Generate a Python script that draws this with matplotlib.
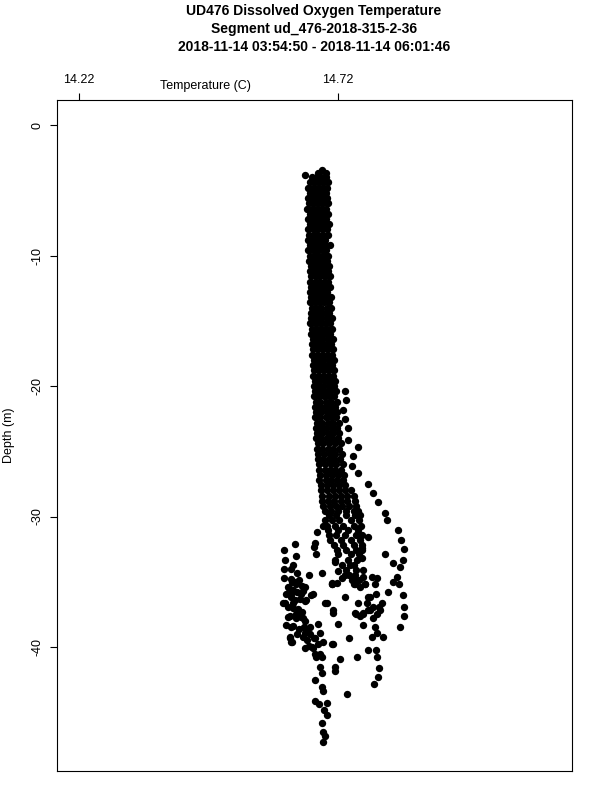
import numpy as np
import matplotlib
matplotlib.use("Agg")
from matplotlib import pyplot as plt

plt.rcParams['font.family'] = ['Liberation Sans', 'DejaVu Sans']

title_lines = ["UD476 Dissolved Oxygen Temperature",
               "Segment ud_476-2018-315-2-36",
               "2018-11-14 03:54:50 - 2018-11-14 06:01:46"]
x_ticks = [14.22, 14.72]
y_ticks = [0, -10, -20, -30, -40]

# dense column: one depth per row, the temperatures read at that depth
col_depth = [-3.45, -3.7, -3.8, -4.0, -4.4, -4.8, -5.2, -5.6, -6.0, -6.4, -6.8, -7.2,
             -7.6, -8.0, -8.4, -8.8, -9.2, -9.6, -10.0, -10.4, -10.8, -11.2, -11.6,
             -12.0, -12.4, -12.8, -13.2, -13.6, -14.0, -14.4, -14.8, -15.2, -15.6,
             -16.0, -16.4, -16.8, -17.2, -17.6, -18.0, -18.4, -18.8, -19.2, -19.6,
             -20.0, -20.4, -20.8, -21.2, -21.6, -22.0, -22.4, -22.8, -23.2, -23.6,
             -24.0, -24.4, -24.8, -25.2, -25.6, -26.0, -26.4, -26.8, -27.2, -27.6,
             -28.0, -28.4, -28.8, -29.2, -29.6, -29.9, -30.3, -30.7, -31.0, -31.4,
             -31.8, -32.2, -32.6, -32.9, -33.3, -33.7, -34.1, -34.5, -34.9, -35.2]
col_temp = [
    [14.689],
    [14.681, 14.697],
    [14.656],
    [14.670, 14.679, 14.688, 14.697],
    [14.666, 14.675, 14.684, 14.693, 14.700],
    [14.663, 14.672, 14.681, 14.690, 14.699],
    [14.665, 14.674, 14.683, 14.692, 14.697],
    [14.662, 14.671, 14.680, 14.689, 14.698],
    [14.664, 14.673, 14.682, 14.691, 14.700],
    [14.661, 14.670, 14.679, 14.688, 14.696],
    [14.665, 14.674, 14.683, 14.692, 14.701],
    [14.662, 14.671, 14.680, 14.689, 14.697],
    [14.666, 14.675, 14.684, 14.693, 14.703],
    [14.662, 14.671, 14.680, 14.689, 14.698],
    [14.664, 14.673, 14.682, 14.691, 14.700],
    [14.663, 14.672, 14.681, 14.690, 14.695],
    [14.665, 14.674, 14.683, 14.694, 14.704],
    [14.662, 14.671, 14.680, 14.689, 14.697],
    [14.666, 14.675, 14.684, 14.693, 14.701],
    [14.664, 14.673, 14.682, 14.691, 14.699],
    [14.667, 14.676, 14.685, 14.694, 14.703],
    [14.665, 14.674, 14.683, 14.692, 14.700],
    [14.668, 14.677, 14.686, 14.695, 14.705],
    [14.666, 14.675, 14.684, 14.693, 14.701],
    [14.667, 14.676, 14.686, 14.695, 14.704],
    [14.665, 14.674, 14.683, 14.692, 14.699],
    [14.668, 14.677, 14.687, 14.697, 14.706],
    [14.666, 14.675, 14.684, 14.693, 14.702],
    [14.669, 14.678, 14.688, 14.698, 14.707],
    [14.667, 14.676, 14.685, 14.694, 14.703],
    [14.668, 14.678, 14.688, 14.698, 14.708],
    [14.666, 14.675, 14.685, 14.695, 14.704],
    [14.670, 14.679, 14.689, 14.699, 14.709],
    [14.668, 14.677, 14.687, 14.696, 14.705],
    [14.671, 14.680, 14.690, 14.700, 14.710],
    [14.669, 14.678, 14.688, 14.697, 14.706],
    [14.672, 14.681, 14.691, 14.701, 14.711],
    [14.670, 14.679, 14.689, 14.698, 14.708],
    [14.673, 14.682, 14.692, 14.702, 14.712],
    [14.671, 14.680, 14.690, 14.699, 14.709],
    [14.674, 14.683, 14.693, 14.703, 14.713],
    [14.672, 14.681, 14.691, 14.700, 14.710],
    [14.675, 14.684, 14.694, 14.704, 14.714],
    [14.673, 14.682, 14.692, 14.702, 14.712],
    [14.676, 14.685, 14.695, 14.705, 14.716],
    [14.674, 14.683, 14.693, 14.703, 14.713],
    [14.677, 14.686, 14.697, 14.707, 14.718],
    [14.675, 14.685, 14.695, 14.705, 14.715],
    [14.678, 14.688, 14.698, 14.709, 14.719],
    [14.676, 14.686, 14.696, 14.706, 14.717],
    [14.679, 14.689, 14.700, 14.710, 14.721],
    [14.677, 14.687, 14.697, 14.708, 14.718],
    [14.680, 14.690, 14.701, 14.711, 14.722],
    [14.678, 14.688, 14.699, 14.709, 14.720],
    [14.681, 14.692, 14.703, 14.714, 14.725],
    [14.679, 14.690, 14.701, 14.711, 14.722],
    [14.682, 14.693, 14.704, 14.715, 14.727],
    [14.681, 14.692, 14.703, 14.713, 14.724],
    [14.684, 14.695, 14.706, 14.717, 14.729],
    [14.683, 14.694, 14.705, 14.715, 14.726],
    [14.686, 14.697, 14.708, 14.720, 14.731],
    [14.684, 14.696, 14.707, 14.718, 14.730],
    [14.688, 14.699, 14.711, 14.722, 14.734],
    [14.687, 14.698, 14.710, 14.721, 14.733, 14.745],
    [14.690, 14.702, 14.714, 14.726, 14.738, 14.750],
    [14.689, 14.701, 14.713, 14.725, 14.737, 14.752],
    [14.692, 14.704, 14.716, 14.728, 14.741, 14.755],
    [14.694, 14.706, 14.720, 14.735, 14.750, 14.758],
    [14.702, 14.716, 14.735, 14.752, 14.762],
    [14.695, 14.708, 14.722, 14.745, 14.760],
    [14.699, 14.714, 14.730, 14.750, 14.764],
    [14.701, 14.720, 14.740, 14.758],
    [14.703, 14.716, 14.733, 14.755, 14.766],
    [14.705, 14.725, 14.745, 14.762],
    [14.712, 14.730, 14.750, 14.766],
    [14.718, 14.735, 14.755],
    [14.720, 14.745, 14.760],
    [14.714, 14.740, 14.757],
    [14.728, 14.750],
    [14.735, 14.755, 14.768],
    [14.741, 14.753],
    [14.747, 14.760],
    [14.708, 14.751, 14.772],
]

# warm streak to the right of the column
right_temp = [14.734, 14.735, 14.730, 14.734, 14.739, 14.739, 14.759, 14.749, 14.747,
              14.759, 14.778, 14.788, 14.797, 14.811, 14.815, 14.836, 14.842, 14.847,
              14.845, 14.826, 14.840, 14.834, 14.826, 14.838, 14.817, 14.845, 14.847,
              14.847, 14.840, 14.811]
right_depth = [-20.4, -21.1, -21.8, -22.5, -23.2, -24.1, -24.7, -25.4, -26.1,
               -26.7, -27.5, -28.2, -28.9, -29.7, -30.3, -31.0, -31.8, -32.5,
               -33.3, -33.6, -33.9, -34.6, -35.0, -35.2, -35.8, -36.0, -36.9,
               -37.6, -38.5, -32.9]

# scattered readings between the clusters
mid_temp = [14.679, 14.691, 14.778, 14.766, 14.766, 14.674, 14.677, 14.637, 14.639,
            14.633, 14.641, 14.689, 14.708, 14.718, 14.720, 14.734, 14.664, 14.672,
            14.699, 14.710, 14.710, 14.720, 14.710, 14.734, 14.759, 14.755, 14.778,
            14.786, 14.791, 14.793, 14.805, 14.799, 14.801, 14.795, 14.788, 14.778,
            14.768, 14.762, 14.791, 14.795, 14.768, 14.807, 14.786, 14.778, 14.793,
            14.795, 14.799, 14.797, 14.790, 14.757, 14.724, 14.714, 14.714, 14.741,
            14.708, 14.737,
            14.676, 14.714, 14.766, 14.743, 14.728, 14.749, 14.768, 14.753, 14.762,
            14.772, 14.795, 14.708, 14.782, 14.776, 14.788, 14.782, 14.753, 14.768]
mid_depth = [-31.2, -30.7, -31.6, -32.6, -33.2, -32.3, -32.9, -32.1, -33.0,
             -33.7, -34.3, -34.3, -35.1, -35.1, -34.2, -34.5, -34.5, -35.9,
             -36.6, -37.2, -37.4, -38.2, -39.8, -36.2, -36.6, -37.5, -36.2,
             -34.6, -35.2, -35.9, -36.6, -36.9, -37.2, -37.5, -37.8, -37.2,
             -37.4, -37.6, -38.5, -38.9, -38.3, -39.2, -39.2, -40.2, -40.2,
             -40.8, -41.6, -42.3, -42.8, -40.8, -40.9, -41.5, -41.8, -39.3,
             -39.8, -43.6,
             -32.0, -33.5, -32.4, -33.7, -34.7, -34.7, -34.6, -35.2, -35.4,
             -35.2, -34.7, -35.2, -36.2, -36.6, -36.9, -37.2, -37.4, -37.5]

# cold cluster on the left
left_temp = [14.616, 14.618, 14.616, 14.616, 14.620, 14.618, 14.620, 14.627, 14.631,
             14.629, 14.637, 14.645, 14.650, 14.625, 14.633, 14.641, 14.652,
             14.629, 14.637, 14.647, 14.656, 14.623, 14.633, 14.643, 14.650,
             14.627, 14.639, 14.648, 14.656, 14.633, 14.645, 14.654, 14.660,
             14.641, 14.652, 14.660, 14.664, 14.656, 14.629, 14.631, 14.658,
             14.666, 14.674, 14.681,
             14.639, 14.623, 14.656, 14.629, 14.649, 14.668, 14.614, 14.633,
             14.658, 14.695, 14.623, 14.639, 14.652, 14.629, 14.666, 14.656,
             14.676, 14.627, 14.629, 14.681, 14.672, 14.685, 14.678]
left_depth = [-32.6, -33.3, -34.0, -34.7, -35.9, -36.6, -38.3, -39.2, -39.6,
              -34.8, -35.0, -34.9, -35.3, -35.5, -35.6, -35.8, -35.7,
              -36.2, -36.4, -36.3, -36.5, -36.9, -37.0, -37.1, -37.3,
              -37.6, -37.8, -37.7, -38.0, -38.4, -38.6, -38.5, -38.8,
              -39.0, -39.2, -39.5, -39.9, -40.1, -34.0, -35.0, -38.6,
              -39.0, -39.3, -38.2,
              -35.2, -35.4, -35.4, -35.9, -35.9, -36.0, -36.6, -36.6,
              -36.4, -36.6, -37.7, -37.5, -37.8, -38.5, -38.5, -38.9,
              -39.3, -39.3, -39.6, -39.8, -40.1, -40.5, -40.8]

# bottom trail
trail_temp = [14.685, 14.691, 14.670, 14.676, 14.689, 14.685, 14.689, 14.676, 14.689,
              14.691, 14.676, 14.683, 14.699, 14.693, 14.699, 14.689, 14.691, 14.695,
              14.691]
trail_depth = [-38.9, -39.6, -40.0, -40.5, -40.8, -41.5, -42.0, -42.5, -43.1,
               -43.4, -44.1, -44.4, -44.3, -44.8, -45.2, -45.8, -46.5, -46.8,
               -47.3]

# flatten the column rows
temp = [t for row in col_temp for t in row]
depth = [d for d, row in zip(col_depth, col_temp) for t in row]
temp = np.array(temp + right_temp + mid_temp + left_temp + trail_temp)
depth = np.array(depth + right_depth + mid_depth + left_depth + trail_depth)

fig = plt.figure(figsize=(6, 8), dpi=100)
ax = fig.add_axes([57/600, 1 - 771/800, 515/600, 671/800])

ax.plot(temp, depth, 'o', color='black', markersize=5.3, markeredgewidth=0)

ax.set_xlim(14.1775, 15.1718)
ax.set_ylim(-49.5, 1.916)

ax.xaxis.tick_top()
ax.set_xticks(x_ticks)
ax.set_xticklabels([f"{v:.2f}" for v in x_ticks])
ax.set_yticks(y_ticks)
ax.set_yticklabels([str(v) for v in y_ticks], rotation=90, va='center')
ax.tick_params(axis='both', length=5, width=0.8, direction='out', labelsize=9, pad=5)
for s in ax.spines.values():
    s.set_linewidth(0.8)

fig.text(205/600, 1 - 86/800, "Temperature (C)", ha='center', va='center', fontsize=9)
fig.text(9/600, 1 - 435/800, "Depth (m)", ha='center', va='center', rotation=90, fontsize=9)

for i, line in enumerate(title_lines):
    fig.text(314/600, 1 - (11 + 18 * i)/800, line, ha='center', va='center',
             fontsize=10, fontweight='bold')

fig.savefig("out.png", dpi=100)
